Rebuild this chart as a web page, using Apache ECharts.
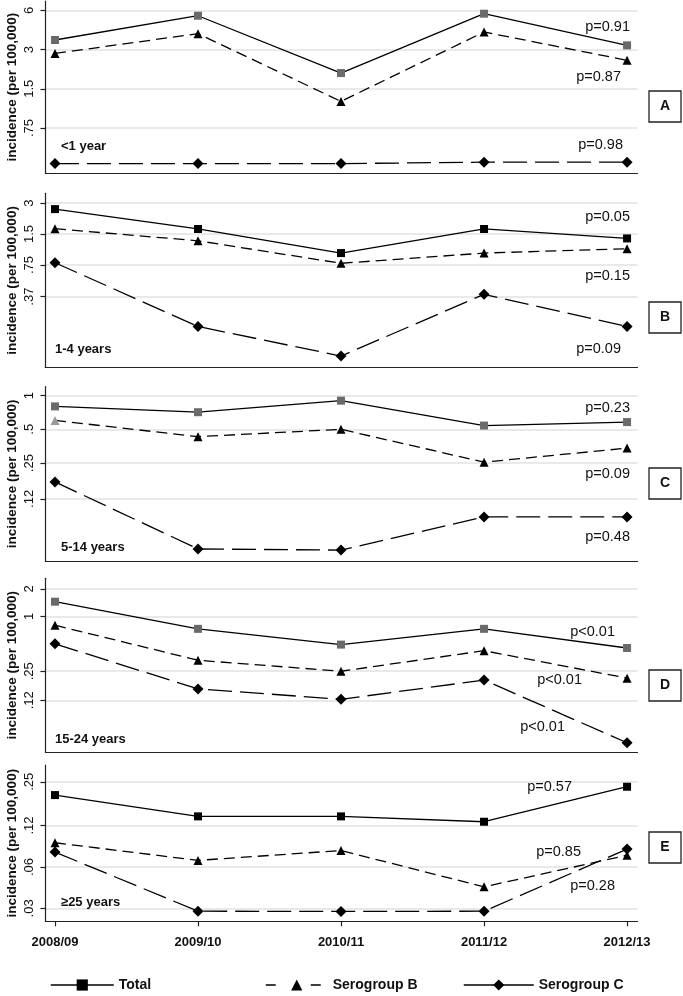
<!DOCTYPE html>
<html><head><meta charset="utf-8">
<script src="https://cdn.jsdelivr.net/npm/echarts@6/dist/echarts.min.js"></script>
<style>html,body{margin:0;padding:0;background:#fff}#c{width:683px;height:996px}</style>
</head><body><div id="c"></div>
<script>
// ---- data ----
const years = ['2008/09', '2009/10', '2010/11', '2011/12', '2012/13'];

const totalA = [3.55, 5.45, 1.98, 5.65, 3.23];
const serBA  = [2.8, 3.97, 1.2, 4.09, 2.48];
const serCA  = [0.40, 0.40, 0.40, 0.41, 0.41];

const totalB = [2.62, 1.68, 0.98, 1.68, 1.36];
const serBB  = [1.69, 1.29, 0.78, 0.98, 1.08];
const serCB  = [0.79, 0.19, 0.098, 0.39, 0.19];

const totalC = [0.80, 0.71, 0.90, 0.54, 0.58];
const serBC  = [0.60, 0.43, 0.50, 0.255, 0.34];
const serCC  = [0.17, 0.043, 0.042, 0.083, 0.083];

const totalD = [1.45, 0.73, 0.49, 0.73, 0.45];
const serBD  = [0.80, 0.33, 0.25, 0.42, 0.21];
const serCD  = [0.50, 0.16, 0.123, 0.20, 0.041];

const totalE = [0.20, 0.14, 0.14, 0.128, 0.23];
const serBE  = [0.09, 0.067, 0.079, 0.043, 0.073];
const serCE  = [0.077, 0.0286, 0.0285, 0.0286, 0.081];

const ticksA = [0.75, 1.5, 3, 6],      tickLabelsA = ['.75', '1.5', '3', '6'];
const ticksB = [0.37, 0.75, 1.5, 3],   tickLabelsB = ['.37', '.75', '1.5', '3'];
const ticksC = [0.12, 0.25, 0.5, 1],   tickLabelsC = ['.12', '.25', '.5', '1'];
const ticksD = [0.12, 0.25, 1, 2],     tickLabelsD = ['.12', '.25', '1', '2'];
const ticksE = [0.03, 0.06, 0.12, 0.25], tickLabelsE = ['.03', '.06', '.12', '.25'];

const ageLabels = ['<1 year', '1-4 years', '5-14 years', '15-24 years', '\u226525 years'];
const panelLetters = ['A', 'B', 'C', 'D', 'E'];
const pTotal = ['p=0.91', 'p=0.05', 'p=0.23', 'p<0.01', 'p=0.57'];
const pSerB  = ['p=0.87', 'p=0.15', 'p=0.09', 'p<0.01', 'p=0.85'];
const pSerC  = ['p=0.98', 'p=0.09', 'p=0.48', 'p<0.01', 'p=0.28'];
const seriesNames = ['Total', 'Serogroup B', 'Serogroup C'];
const yTitle = 'incidence (per 100,000)';

// ---- layout / style ----
const FONT = "'Liberation Sans', Arial, sans-serif";
const panels = [
  {top: 1,     height: 172.3, min: 0.337,  max: 7.07,  tot: totalA, b: serBA, c: serCA, ticks: ticksA, labels: tickLabelsA, grayTot: true,
   box: 91, age: 146, pt: [630, 27], pb: [621, 77], pc: [623, 145]},
  {top: 193.3, height: 174.2, min: 0.0759, max: 3.73,  tot: totalB, b: serBB, c: serCB, ticks: ticksB, labels: tickLabelsB, grayTot: false,
   box: 302, age: 349, pt: [630, 217], pb: [630, 276], pc: [621, 349]},
  {top: 386.7, height: 174.3, min: 0.0336, max: 1.198, tot: totalC, b: serBC, c: serCC, ticks: ticksC, labels: tickLabelsC, grayTot: true,
   box: 468, age: 547, pt: [630, 408], pb: [630, 474], pc: [630, 537]},
  {top: 578.3, height: 174,   min: 0.0322, max: 2.62,  tot: totalD, b: serBD, c: serCD, ticks: ticksD, labels: tickLabelsD, grayTot: true,
   box: 670, age: 739, pt: [615, 632], pb: [582, 680], pc: [565, 727]},
  {top: 765,   height: 156.3, min: 0.02415, max: 0.331, tot: totalE, b: serBE, c: serCE, ticks: ticksE, labels: tickLabelsE, grayTot: false,
   box: 832, age: 902, pt: [572, 787], pb: [581, 852], pc: [615, 886]}
];
const idx = [0, 1, 2, 3, 4];

const grids = [], xAxes = [], yAxes = [], series = [], graphics = [];
panels.forEach((p, i) => {
  grids.push({left: 45.4, right: 45.5, top: p.top, height: p.height, containLabel: false, outerBoundsMode: 'none'});
  xAxes.push({
    gridIndex: i, type: 'value', min: -0.067, max: 4.073,
    axisLine: {show: true, onZero: false, lineStyle: {color: '#222', width: 1.2}},
    axisTick: {show: i === 4, customValues: idx, length: 5, lineStyle: {color: '#222', width: 1.2}},
    axisLabel: {show: i === 4, customValues: idx, formatter: v => years[Math.round(v)] || '',
      fontFamily: FONT, fontSize: 13, fontWeight: 'bold', color: '#111', margin: 15},
    splitLine: {show: false}
  });
  yAxes.push({
    gridIndex: i, type: 'log', logBase: 2, min: p.min, max: p.max,
    axisLine: {show: true, onZero: false, lineStyle: {color: '#222', width: 1.2}},
    axisTick: {show: true, customValues: p.ticks, length: 5, lineStyle: {color: '#222', width: 1.2}},
    axisLabel: {customValues: p.ticks, rotate: 90, margin: 9,
      formatter: v => { const k = p.ticks.findIndex(t => Math.abs(t - v) / t < 1e-4); return k >= 0 ? p.labels[k] : ''; },
      fontFamily: FONT, fontSize: 13, color: '#111'},
    splitLine: {show: true, lineStyle: {color: '#e2e2e2', width: 1.5}},
    name: yTitle, nameLocation: 'middle', nameRotate: 90, nameGap: 26, nameMoveOverlap: false,
    nameTextStyle: {fontFamily: FONT, fontSize: 13.5, fontWeight: 'bold', color: '#111'}
  });
  series.push({
    type: 'line', name: seriesNames[0], xAxisIndex: i, yAxisIndex: i,
    data: p.tot.map((v, j) => [j, v]),
    symbol: 'rect', symbolSize: 8,
    lineStyle: {color: '#000', width: 1.3, type: 'solid'},
    itemStyle: {color: p.grayTot ? '#6a6a6a' : '#000'}, z: 4
  });
  series.push({
    type: 'line', name: seriesNames[1], xAxisIndex: i, yAxisIndex: i,
    data: p.b.map((v, j) => (i === 2 && j === 0) ? {value: [j, v], itemStyle: {color: '#9a9a9a'}} : [j, v]),
    symbol: 'triangle', symbolSize: 9,
    lineStyle: {color: '#000', width: 1.3, type: [11, 6]},
    itemStyle: {color: '#000'}, z: 3
  });
  series.push({
    type: 'line', name: seriesNames[2], xAxisIndex: i, yAxisIndex: i,
    data: p.c.map((v, j) => [j, v]),
    symbol: 'diamond', symbolSize: [11, 11],
    lineStyle: {color: '#000', width: 1.3, type: [24, 8]},
    itemStyle: {color: '#000'}, z: 3
  });
  const tfont = '14.5px ' + FONT;
  [[pTotal[i], p.pt], [pSerB[i], p.pb], [pSerC[i], p.pc]].forEach(([t, pos]) => {
    graphics.push({type: 'text', x: pos[0], y: pos[1], z: 10,
      style: {text: t, font: tfont, fill: '#111', align: 'right', verticalAlign: 'middle', textAlign: 'right', textVerticalAlign: 'middle'}});
  });
  graphics.push({type: 'text', x: i === 0 || i === 2 || i === 4 ? 61 : 55, y: p.age, z: 10,
    style: {text: ageLabels[i], font: 'bold 13px ' + FONT, fill: '#111', align: 'left', verticalAlign: 'middle', textAlign: 'left', textVerticalAlign: 'middle'}});
  graphics.push({type: 'rect', shape: {x: 649, y: p.box, width: 32, height: 31}, z: 10,
    style: {fill: '#fff', stroke: '#222', lineWidth: 1.3}});
  graphics.push({type: 'text', x: 665, y: p.box + 15.5, z: 11,
    style: {text: panelLetters[i], font: 'bold 14px ' + FONT, fill: '#111', align: 'center', verticalAlign: 'middle', textAlign: 'center', textVerticalAlign: 'middle'}});
});

const legendText = {fontFamily: FONT, fontSize: 14, fontWeight: 'bold', color: '#111'};
const option = {
  animation: false,
  backgroundColor: '#fff',
  grid: grids, xAxis: xAxes, yAxis: yAxes, series: series,
  legend: [
    {data: [seriesNames[0]], left: 50, top: 978, padding: 0, itemWidth: 63, itemHeight: 14, selectedMode: false,
     itemStyle: {color: '#000'}, lineStyle: {color: '#000', width: 1.5, type: 'solid'}, textStyle: legendText},
    {data: [seriesNames[1]], left: 265, top: 978, padding: 0, itemWidth: 62, itemHeight: 14, selectedMode: false,
     itemStyle: {color: '#000'}, lineStyle: {color: '#000', width: 1.5, type: [10, 35]}, textStyle: legendText},
    {data: [seriesNames[2]], left: 463, top: 978, padding: 0, itemWidth: 70, itemHeight: 14, selectedMode: false,
     itemStyle: {color: '#000'}, lineStyle: {color: '#000', width: 1.5, type: 'solid'}, textStyle: legendText}
  ],
  graphic: graphics
};
echarts.init(document.getElementById('c'), null, {renderer: 'canvas'}).setOption(option);
</script></body></html>
